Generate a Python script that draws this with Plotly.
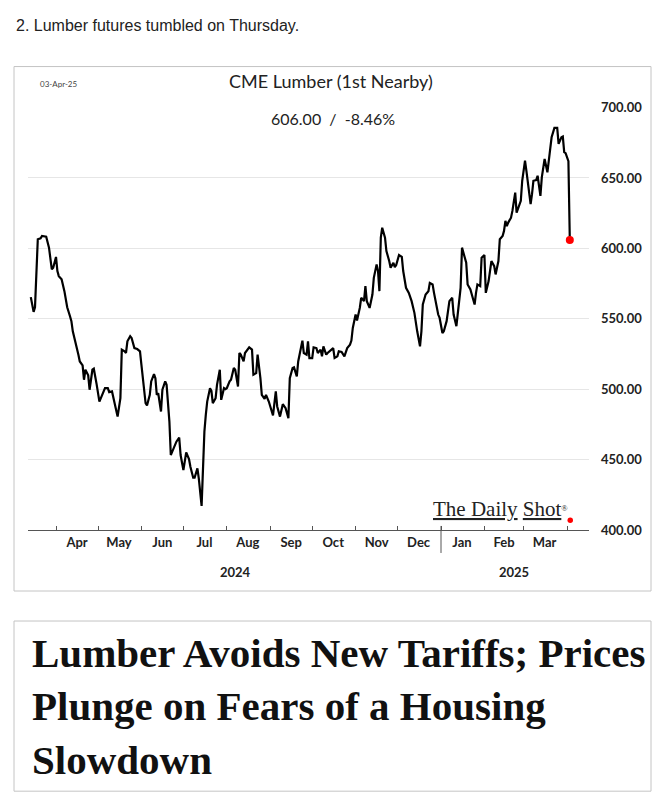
import plotly.graph_objects as go

# CME lumber, 1st nearby
DATES = [
    "2024-03-14", "2024-03-16", "2024-03-17", "2024-03-19", "2024-03-21", "2024-03-22",
    "2024-03-25", "2024-03-27", "2024-03-29", "2024-03-30", "2024-04-01", "2024-04-02",
    "2024-04-03", "2024-04-05", "2024-04-07", "2024-04-09", "2024-04-11", "2024-04-12",
    "2024-04-13", "2024-04-15", "2024-04-17", "2024-04-18", "2024-04-20", "2024-04-21",
    "2024-04-22", "2024-04-24", "2024-04-25", "2024-04-27", "2024-04-28", "2024-04-30",
    "2024-05-02", "2024-05-04", "2024-05-06", "2024-05-08", "2024-05-09", "2024-05-11",
    "2024-05-12", "2024-05-14", "2024-05-15", "2024-05-17", "2024-05-18", "2024-05-20",
    "2024-05-21", "2024-05-22", "2024-05-24", "2024-05-25", "2024-05-27", "2024-05-29",
    "2024-05-31", "2024-06-01", "2024-06-03", "2024-06-04", "2024-06-05", "2024-06-07",
    "2024-06-08", "2024-06-10", "2024-06-11", "2024-06-12", "2024-06-13", "2024-06-15",
    "2024-06-16", "2024-06-18", "2024-06-19", "2024-06-21", "2024-06-22", "2024-06-24",
    "2024-06-26", "2024-06-28", "2024-06-29", "2024-07-01", "2024-07-02", "2024-07-03",
    "2024-07-05", "2024-07-06", "2024-07-08", "2024-07-09", "2024-07-11", "2024-07-12",
    "2024-07-14", "2024-07-15", "2024-07-16", "2024-07-17", "2024-07-18", "2024-07-20",
    "2024-07-21", "2024-07-22", "2024-07-24", "2024-07-25", "2024-07-27", "2024-07-28",
    "2024-07-30", "2024-07-31", "2024-08-01", "2024-08-03", "2024-08-04", "2024-08-06",
    "2024-08-07", "2024-08-09", "2024-08-10", "2024-08-11", "2024-08-13", "2024-08-14",
    "2024-08-16", "2024-08-17", "2024-08-19", "2024-08-20", "2024-08-22", "2024-08-23",
    "2024-08-25", "2024-08-26", "2024-08-28", "2024-08-29", "2024-08-31", "2024-09-02",
    "2024-09-03", "2024-09-05", "2024-09-06", "2024-09-08", "2024-09-09", "2024-09-10",
    "2024-09-12", "2024-09-14", "2024-09-15", "2024-09-17", "2024-09-18", "2024-09-20",
    "2024-09-21", "2024-09-23", "2024-09-24", "2024-09-25", "2024-09-27", "2024-09-28",
    "2024-09-29", "2024-10-01", "2024-10-02", "2024-10-04", "2024-10-05", "2024-10-07",
    "2024-10-08", "2024-10-09", "2024-10-11", "2024-10-12", "2024-10-14", "2024-10-16",
    "2024-10-17", "2024-10-19", "2024-10-20", "2024-10-22", "2024-10-24", "2024-10-26",
    "2024-10-28", "2024-10-29", "2024-10-30", "2024-11-01", "2024-11-02", "2024-11-04",
    "2024-11-05", "2024-11-07", "2024-11-08", "2024-11-09", "2024-11-11", "2024-11-13",
    "2024-11-14", "2024-11-16", "2024-11-17", "2024-11-18", "2024-11-19", "2024-11-20",
    "2024-11-22", "2024-11-23", "2024-11-25", "2024-11-26", "2024-11-28", "2024-11-29",
    "2024-11-30", "2024-12-02", "2024-12-04", "2024-12-05", "2024-12-07", "2024-12-09",
    "2024-12-11", "2024-12-13", "2024-12-15", "2024-12-17", "2024-12-18", "2024-12-19",
    "2024-12-21", "2024-12-23", "2024-12-24", "2024-12-26", "2024-12-27", "2024-12-28",
    "2024-12-30", "2024-12-31", "2025-01-02", "2025-01-03", "2025-01-05", "2025-01-06",
    "2025-01-07", "2025-01-09", "2025-01-10", "2025-01-12", "2025-01-13", "2025-01-15",
    "2025-01-16", "2025-01-17", "2025-01-19", "2025-01-20", "2025-01-22", "2025-01-23",
    "2025-01-25", "2025-01-26", "2025-01-27", "2025-01-29", "2025-01-30", "2025-02-01",
    "2025-02-02", "2025-02-04", "2025-02-05", "2025-02-06", "2025-02-08", "2025-02-09",
    "2025-02-11", "2025-02-12", "2025-02-14", "2025-02-15", "2025-02-16", "2025-02-17",
    "2025-02-18", "2025-02-20", "2025-02-21", "2025-02-23", "2025-02-24", "2025-02-26",
    "2025-02-27", "2025-02-28", "2025-03-02", "2025-03-03", "2025-03-05", "2025-03-06",
    "2025-03-07", "2025-03-08", "2025-03-10", "2025-03-11", "2025-03-13", "2025-03-14",
    "2025-03-16", "2025-03-17", "2025-03-18", "2025-03-20", "2025-03-21", "2025-03-23",
    "2025-03-25", "2025-03-26", "2025-03-28", "2025-03-29", "2025-03-30", "2025-03-31",
    "2025-04-02", "2025-04-03",
]
PRICES = [
    565.4, 554.9, 558.2, 606.5, 607.2, 608.8,
    608.3, 600.5, 585.1, 586.3, 593.9, 583.9,
    580.3, 578.0, 569.6, 558.2, 551.8, 548.3,
    541.1, 533.5, 524.5, 519.7, 516.9, 506.7,
    513.8, 509.8, 499.6, 513.8, 514.5, 503.6,
    491.2, 496.0, 500.7, 500.7, 497.9, 498.4,
    493.6, 482.9, 480.5, 493.6, 528.1, 526.9,
    525.7, 534.0, 537.6, 536.4, 529.2, 528.5,
    526.9, 517.4, 500.7, 490.0, 488.4, 496.0,
    505.5, 510.7, 507.8, 496.0, 497.2, 484.1,
    499.6, 505.5, 503.1, 477.0, 453.2, 458.0,
    462.7, 465.6, 453.2, 442.5, 448.5, 455.1,
    450.4, 444.9, 437.1, 437.1, 443.7, 436.6,
    417.1, 450.8, 469.8, 481.7, 491.2, 500.7,
    498.8, 490.0, 493.6, 503.1, 513.8, 492.4,
    500.7, 500.0, 500.7, 505.5, 506.7, 515.0,
    513.8, 501.9, 525.7, 524.5, 519.7, 525.7,
    528.8, 529.7, 528.1, 510.3, 511.4, 524.5,
    507.8, 496.0, 493.1, 496.0, 491.2, 485.3,
    481.3, 498.4, 487.7, 480.5, 484.1, 489.3,
    486.5, 479.4, 507.8, 515.0, 515.5, 509.1,
    519.7, 528.1, 534.5, 525.7, 524.5, 534.0,
    522.1, 522.1, 529.7, 529.2, 525.7, 528.1,
    523.3, 530.4, 524.5, 525.7, 527.4, 529.2,
    522.1, 523.3, 526.9, 526.4, 523.3, 529.2,
    531.6, 534.5, 543.5, 553.0, 548.8, 557.7,
    564.9, 562.5, 573.2, 562.5, 557.7, 567.2,
    579.1, 588.6, 583.9, 569.6, 607.6, 614.7,
    607.6, 598.1, 591.0, 586.3, 589.8, 586.7,
    588.2, 595.3, 593.9, 583.9, 572.0, 568.4,
    562.5, 554.2, 541.1, 530.4, 541.1, 560.1,
    567.2, 569.6, 575.5, 574.4, 568.4, 562.5,
    553.0, 550.6, 539.9, 541.1, 548.3, 555.4,
    562.5, 564.9, 553.0, 544.7, 553.0, 572.0,
    600.5, 596.9, 589.8, 574.4, 570.8, 567.2,
    560.1, 568.4, 574.4, 573.2, 593.4, 595.3,
    568.4, 576.8, 586.3, 591.0, 587.4, 581.5,
    591.0, 606.5, 608.8, 612.4, 619.5, 615.9,
    618.3, 621.8, 626.6, 639.6, 625.4, 630.2,
    633.8, 648.0, 662.3, 655.1, 640.9, 631.4,
    638.5, 648.0, 648.5, 651.6, 637.3, 650.4,
    663.5, 657.6, 654.0, 670.6, 678.9, 685.6,
    685.6, 674.2, 678.9, 679.4, 668.3, 667.6,
    662.0, 606.0,
]

MONTH_POS = ["2024-04-16", "2024-05-16", "2024-06-16", "2024-07-16", "2024-08-16",
             "2024-09-16", "2024-10-16", "2024-11-16", "2024-12-16", "2025-01-16",
             "2025-02-15", "2025-03-16"]
MONTH_LABELS = ["Apr", "May", "Jun", "Jul", "Aug", "Sep", "Oct", "Nov", "Dec",
                "Jan", "Feb", "Mar"]
YEAR_POS = ["2024-08-07", "2025-02-22"]
YEAR_LABELS = ["2024", "2025"]
Y_TICKS = [400, 450, 500, 550, 600, 650, 700]

W, H = 658, 794


def px(x):
    return x / W


def py(y):
    # the page shot comes back slightly squeezed vertically; undo that here
    page_y = (y - 7.5) / 0.979
    return 1 - page_y / H


last_val = PRICES[-1]
pct = (PRICES[-1] / PRICES[-2] - 1) * 100

fig = go.Figure()
fig.add_trace(go.Scatter(x=DATES, y=PRICES, mode="lines",
                         line=dict(color="black", width=2.2), hoverinfo="skip"))
fig.add_trace(go.Scatter(x=[DATES[-1]], y=[PRICES[-1]], mode="markers",
                         marker=dict(color="#ff0000", size=8), hoverinfo="skip"))

lato = "Lato, Carlito, Calibri, sans-serif"

annotations = [
    dict(text="2. Lumber futures tumbled on Thursday.", x=px(14), y=py(25),
         xanchor="left", yanchor="middle",
         font=dict(family="Liberation Sans, Arial", size=16, color="#222222")),
    dict(text="03-Apr-25", x=px(58), y=py(83), xanchor="center", yanchor="middle",
         font=dict(family=lato, size=8, color="#444444")),
    dict(text="CME Lumber (1st Nearby)", x=px(331), y=py(80), xanchor="center",
         yanchor="middle", font=dict(family=lato, size=18, color="#222222")),
    dict(text="%.2f  /  %.2f%%" % (last_val, pct), x=px(333), y=py(118),
         xanchor="center", yanchor="middle",
         font=dict(family=lato, size=16, color="#222222")),
    dict(text="<u>The Daily</u> <u>Shot</u><span style='font-size:12px'><sup>®</sup></span>",
         x=px(500), y=py(508), xanchor="center", yanchor="middle",
         font=dict(family="Liberation Serif, Times New Roman", size=21, color="#222222")),
    dict(text="Lumber Avoids New Tariffs; Prices<br>Plunge on Fears of a Housing<br>Slowdown",
         x=px(30), y=py(705), xanchor="left", yanchor="middle", align="left",
         font=dict(family="Liberation Serif, Times New Roman", size=41,
                   color="#111111", weight="bold")),
]
for pos, lab in zip(YEAR_POS, YEAR_LABELS):
    annotations.append(dict(text=lab, x=pos, xref="x", y=py(571), yref="paper",
                            showarrow=False, xanchor="center", yanchor="middle",
                            font=dict(family=lato, size=13, color="#222222",
                                      weight="bold")))
for a in annotations:
    a.setdefault("xref", "paper")
    a.setdefault("yref", "paper")
    a["showarrow"] = False

shapes = [
    # chart frame and headline frame
    dict(type="rect", xref="paper", yref="paper", x0=px(14), x1=px(651),
         y0=py(590), y1=py(66), line=dict(color="#c4c4c4", width=1)),
    dict(type="rect", xref="paper", yref="paper", x0=px(14), x1=px(651),
         y0=py(790), y1=py(620), line=dict(color="#c4c4c4", width=1)),
    # gap in the top gridline behind the last value label
    dict(type="rect", xref="paper", yref="paper", x0=px(251), x1=px(421),
         y0=py(112), y1=py(102), fillcolor="white", line=dict(width=0),
         layer="between"),
    # year separator
    dict(type="line", xref="x", yref="paper", x0="2025-01-01", x1="2025-01-01",
         y0=py(525), y1=py(552), line=dict(color="#555555", width=1)),
    # red dot of the logo
    dict(type="circle", xref="paper", yref="paper", x0=px(567.5), x1=px(573),
         y0=py(522), y1=py(516.5), fillcolor="#ff0000", line=dict(width=0)),
]

fig.update_layout(
    width=W, height=H,
    margin=dict(l=0, r=0, t=0, b=0),
    paper_bgcolor="white", plot_bgcolor="white",
    showlegend=False,
    annotations=annotations,
    shapes=shapes,
    xaxis=dict(
        domain=[px(28), px(589)],
        range=["2024-03-12", "2025-04-16 17:00"],
        type="date",
        tickmode="array", tickvals=MONTH_POS, ticktext=MONTH_LABELS,
        ticks="", ticklabelstandoff=0,
        tickfont=dict(family=lato, size=13, color="#222222", weight="bold"),
        showgrid=False, zeroline=False,
        showline=True, linecolor="#555555", linewidth=1,
        minor=dict(ticks="inside", ticklen=4, tickcolor="#555555", tickwidth=1,
                   dtick="M1", tick0="2024-04-01", showgrid=False),
    ),
    yaxis=dict(
        domain=[py(529), py(107)],
        range=[400, 700],
        side="right",
        tickmode="array", tickvals=Y_TICKS, tickformat=".2f",
        ticks="", ticklabelstandoff=11,
        tickfont=dict(family=lato, size=13, color="#222222", weight="bold"),
        showgrid=True, gridcolor="#e6e6e6", gridwidth=1,
        zeroline=False, showline=False,
    ),
)

pin_page = (
    "document.documentElement.style.overflow='hidden';"
    "document.body.style.margin='0px';"
    "var gd=document.getElementById('{plot_id}');"
    "gd.style.position='absolute';gd.style.left='0px';gd.style.top='0px';"
)
fig.write_html("out.html", config={"displayModeBar": False}, post_script=pin_page)
